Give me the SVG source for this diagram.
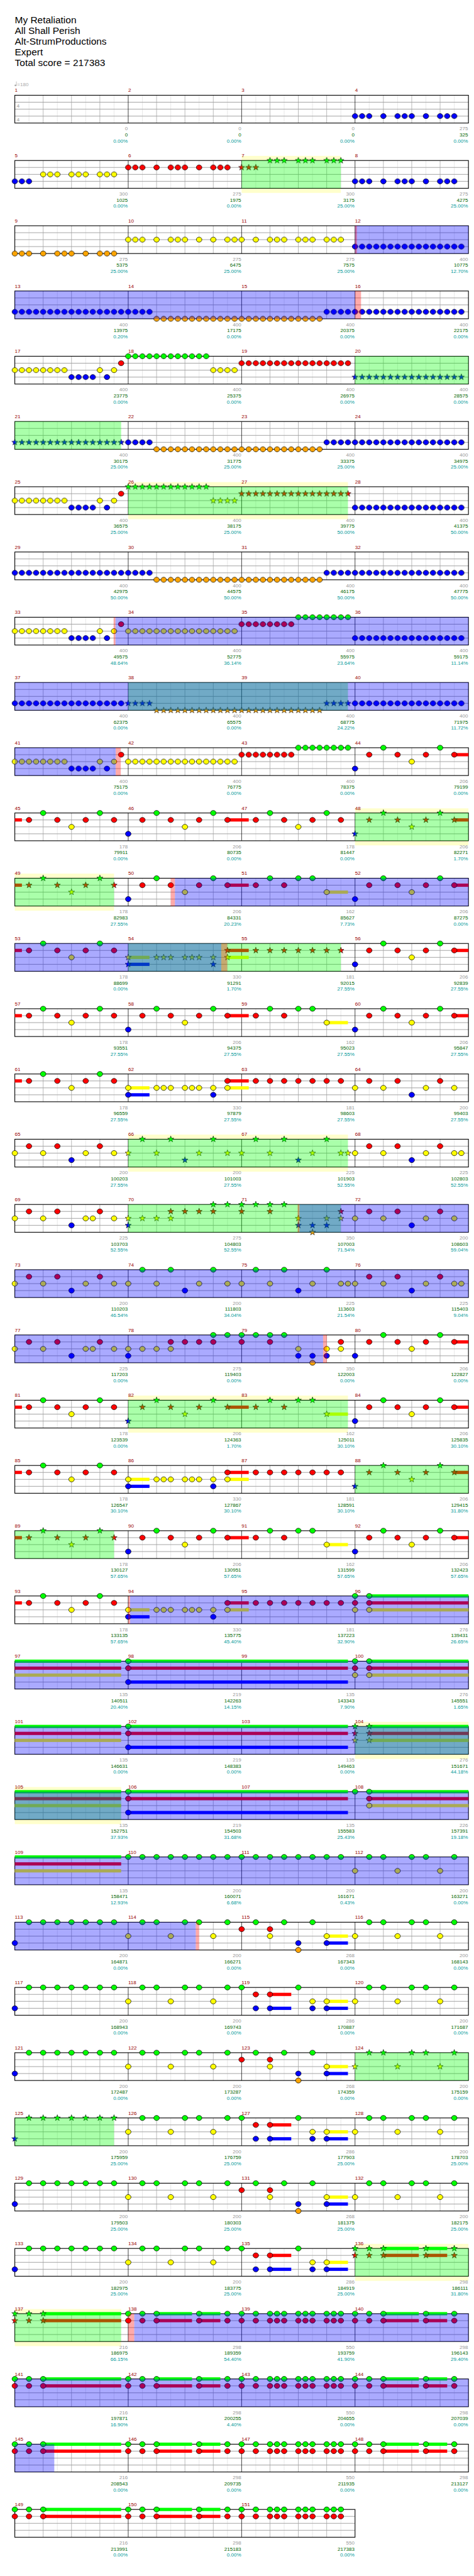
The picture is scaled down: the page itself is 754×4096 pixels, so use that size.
<svg xmlns="http://www.w3.org/2000/svg" width="754" height="4096" viewBox="0 0 754 4096">
<style>
text{font-family:"Liberation Sans",Arial,sans-serif;font-size:11px}
.t{font-size:21px;fill:#000}
.mn{fill:#900}
.s1{fill:#999;text-anchor:end}
.s2{fill:#060;text-anchor:end}
.s3{fill:#099;text-anchor:end}
.og{fill:#0f0;fill-opacity:.333}
.ob{fill:#00f;fill-opacity:.333}
.op{fill:#f00;fill-opacity:.333}
.yb{fill:#ffc}
.sg{fill:#0f0}.sr{fill:#f00}.sy{fill:#ff0}.sb{fill:#00f}
</style>
<defs>
<ellipse id="g" rx="6" ry="5.5" fill="#0f0" stroke="#000"/>
<ellipse id="r" cy="15" rx="6" ry="5.5" fill="#f00" stroke="#000"/>
<ellipse id="y" cy="30" rx="6" ry="5.5" fill="#ff0" stroke="#000"/>
<ellipse id="b" cy="45" rx="6" ry="5.5" fill="#00f" stroke="#000"/>
<ellipse id="o" cy="60" rx="6" ry="5.5" fill="#ffa500" stroke="#000"/>
<path id="st" d="M0-7L1.65-2.27L6.66-2.16L2.66.87L4.11 5.66L0 2.8L-4.11 5.66L-2.66.87L-6.66-2.16L-1.65-2.27Z" stroke="#000" stroke-width=".8"/>
<use id="G" href="#st" fill="#0f0"/>
<use id="R" href="#st" y="15" fill="#f00"/>
<use id="Y" href="#st" y="30" fill="#ff0"/>
<use id="B" href="#st" y="45" fill="#00f"/>
<use id="O" href="#st" y="60" fill="#ffa500"/>
<pattern id="pg" patternUnits="userSpaceOnUse" x="24.34375" y="-7.5" width="15.3125" height="15"><ellipse cx="7.65625" cy="7.5" rx="6" ry="5.5" fill="#0f0" stroke="#000"/></pattern>
<pattern id="pr" patternUnits="userSpaceOnUse" x="24.34375" y="-7.5" width="15.3125" height="15"><ellipse cx="7.65625" cy="7.5" rx="6" ry="5.5" fill="#f00" stroke="#000"/></pattern>
<pattern id="py" patternUnits="userSpaceOnUse" x="24.34375" y="-7.5" width="15.3125" height="15"><ellipse cx="7.65625" cy="7.5" rx="6" ry="5.5" fill="#ff0" stroke="#000"/></pattern>
<pattern id="pb" patternUnits="userSpaceOnUse" x="24.34375" y="-7.5" width="15.3125" height="15"><ellipse cx="7.65625" cy="7.5" rx="6" ry="5.5" fill="#00f" stroke="#000"/></pattern>
<pattern id="po" patternUnits="userSpaceOnUse" x="24.34375" y="-7.5" width="15.3125" height="15"><ellipse cx="7.65625" cy="7.5" rx="6" ry="5.5" fill="#ffa500" stroke="#000"/></pattern>
<pattern id="qg" patternUnits="userSpaceOnUse" x="24.34375" y="-7.5" width="15.3125" height="15"><use href="#st" x="7.65625" y="7.5" fill="#0f0"/></pattern>
<pattern id="qr" patternUnits="userSpaceOnUse" x="24.34375" y="-7.5" width="15.3125" height="15"><use href="#st" x="7.65625" y="7.5" fill="#f00"/></pattern>
<pattern id="qy" patternUnits="userSpaceOnUse" x="24.34375" y="-7.5" width="15.3125" height="15"><use href="#st" x="7.65625" y="7.5" fill="#ff0"/></pattern>
<pattern id="qb" patternUnits="userSpaceOnUse" x="24.34375" y="-7.5" width="15.3125" height="15"><use href="#st" x="7.65625" y="7.5" fill="#00f"/></pattern>
<pattern id="qo" patternUnits="userSpaceOnUse" x="24.34375" y="-7.5" width="15.3125" height="15"><use href="#st" x="7.65625" y="7.5" fill="#ffa500"/></pattern>
<g id="staff">
<rect x="32" y="0" width="980" height="60" fill="#fff"/>
<path d="M62.63 0V60M123.88 0V60M185.13 0V60M246.38 0V60M307.63 0V60M368.88 0V60M430.13 0V60M491.38 0V60M552.63 0V60M613.88 0V60M675.13 0V60M736.38 0V60M797.63 0V60M858.88 0V60M920.13 0V60M981.38 0V60" stroke="#e0e0e0" fill="none"/>
<path d="M93.25 0V60M154.5 0V60M215.75 0V60M338.25 0V60M399.5 0V60M460.75 0V60M583.25 0V60M644.5 0V60M705.75 0V60M828.25 0V60M889.5 0V60M950.75 0V60" stroke="#a0a0a0" fill="none"/>
<path d="M32 15H1012M32 30H1012M32 45H1012" stroke="#a0a0a0" stroke-width="1.3" fill="none"/>
<path d="M277 0V60M522 0V60M767 0V60" stroke="#000" fill="none"/>
<rect x="32" y="0" width="980" height="60" fill="none" stroke="#000" stroke-width="1.5"/>
</g>
<g id="staff3">
<rect x="32" y="0" width="735" height="60" fill="#fff"/>
<path d="M62.63 0V60M123.88 0V60M185.13 0V60M246.38 0V60M307.63 0V60M368.88 0V60M430.13 0V60M491.38 0V60M552.63 0V60M613.88 0V60M675.13 0V60M736.38 0V60" stroke="#e0e0e0" fill="none"/>
<path d="M93.25 0V60M154.5 0V60M215.75 0V60M338.25 0V60M399.5 0V60M460.75 0V60M583.25 0V60M644.5 0V60M705.75 0V60" stroke="#a0a0a0" fill="none"/>
<path d="M32 15H767M32 30H767M32 45H767" stroke="#a0a0a0" stroke-width="1.3" fill="none"/>
<path d="M277 0V60M522 0V60" stroke="#000" fill="none"/>
<rect x="32" y="0" width="735" height="60" fill="none" stroke="#000" stroke-width="1.5"/>
</g>
<rect id="c" class="sr" x="32" y="11.5" width="15.31" height="7"/>
<rect id="c2" class="sr" x="491.38" y="11.5" width="45.93" height="7"/>
<rect id="c3" class="sr" x="981.38" y="11.5" width="30.62" height="7"/>
<g id="gr"><use href="#g"/><use href="#r"/></g>
<g id="GR"><use href="#G"/><use href="#R"/></g>
<g id="gry"><use href="#g"/><use href="#r"/><use href="#y"/></g>
<g id="GRY"><use href="#G"/><use href="#R"/><use href="#Y"/></g>
<g id="K1"><rect x="24.34" y="37.5" width="45.94" height="15" fill="url(#pb)"/><use href="#b" x="93.25"/><rect x="116.22" y="37.5" width="45.94" height="15" fill="url(#pb)"/><use href="#b" x="185.13"/><rect x="208.09" y="37.5" width="45.94" height="15" fill="url(#pb)"/></g>
<g id="BO"><rect x="24.34" y="37.5" width="306.25" height="15" fill="url(#pb)"/><rect x="330.59" y="52.5" width="367.5" height="15" fill="url(#po)"/><rect x="698.09" y="37.5" width="306.25" height="15" fill="url(#pb)"/></g>
<g id="X17"><rect x="24.34" y="22.5" width="122.5" height="15" fill="url(#py)"/><rect x="146.84" y="37.5" width="61.25" height="15" fill="url(#pb)"/><use href="#y" x="215.75"/><use href="#b" x="231.06"/><use href="#y" x="246.38"/><use href="#r" x="261.69"/></g>
<g id="A"><use href="#r" x="62.63"/><use href="#g" x="93.25"/><use href="#r" x="123.88"/><use href="#y" x="154.5"/><use href="#r" x="185.13"/><use href="#g" x="215.75"/><use href="#r" x="246.38"/></g>
<g id="As"><use href="#R" x="62.63"/><use href="#G" x="93.25"/><use href="#R" x="123.88"/><use href="#Y" x="154.5"/><use href="#R" x="185.13"/><use href="#G" x="215.75"/><use href="#R" x="246.38"/></g>
<g id="N8"><use href="#b" x="32"/><use href="#A"/></g>
<g id="N8s"><use href="#B" x="32"/><use href="#As"/></g>
<g id="E"><rect class="sy" x="215.75" y="26.5" width="45.94" height="7"/><use href="#r" x="62.63"/><use href="#g" x="93.25"/><use href="#r" x="123.88"/><use href="#g" x="154.5"/><use href="#g" x="185.13"/><use href="#y" x="215.75"/></g>
<g id="Es"><rect class="sy" x="215.75" y="26.5" width="45.94" height="7"/><use href="#R" x="62.63"/><use href="#G" x="93.25"/><use href="#R" x="123.88"/><use href="#G" x="154.5"/><use href="#G" x="185.13"/><use href="#Y" x="215.75"/></g>
<g id="Fsus"><rect class="sy" x="32" y="26.5" width="45.94" height="7"/><rect class="sb" x="32" y="41.5" width="45.94" height="7"/><rect class="sr" x="246.38" y="11.5" width="45.94" height="7"/><rect class="sy" x="246.38" y="26.5" width="45.94" height="7"/></g>
<g id="F"><use href="#Fsus"/><use href="#y" x="32"/><use href="#b" x="32"/><use href="#y" x="93.25"/><use href="#y" x="108.56"/><use href="#y" x="123.88"/><use href="#y" x="154.5"/><use href="#y" x="169.81"/><use href="#y" x="185.13"/><use href="#y" x="215.75"/><use href="#b" x="215.75"/><use href="#r" x="246.38"/><use href="#y" x="246.38"/></g>
<g id="Fs"><use href="#Fsus"/><use href="#Y" x="32"/><use href="#B" x="32"/><use href="#Y" x="93.25"/><use href="#Y" x="108.56"/><use href="#Y" x="123.88"/><use href="#Y" x="154.5"/><use href="#Y" x="169.81"/><use href="#Y" x="185.13"/><use href="#Y" x="215.75"/><use href="#B" x="215.75"/><use href="#R" x="246.38"/><use href="#Y" x="246.38"/></g>
<g id="H"><use href="#r" x="62.63"/><use href="#r" x="93.25"/><use href="#r" x="123.88"/><use href="#r" x="154.5"/><use href="#r" x="185.13"/><use href="#r" x="215.75"/><use href="#r" x="246.38"/></g>
<g id="Hs"><use href="#R" x="62.63"/><use href="#R" x="93.25"/><use href="#R" x="123.88"/><use href="#R" x="154.5"/><use href="#R" x="185.13"/><use href="#R" x="215.75"/><use href="#R" x="246.38"/></g>
<g id="I"><use href="#y" x="32"/><use href="#r" x="62.63"/><use href="#y" x="93.25"/><use href="#r" x="123.88"/><use href="#b" x="154.5"/><use href="#y" x="185.13"/><use href="#r" x="215.75"/><use href="#y" x="246.38"/></g>
<g id="J"><use href="#y" x="32"/><use href="#g" x="62.63"/><use href="#y" x="93.25"/><use href="#g" x="123.88"/><use href="#b" x="154.5"/><use href="#y" x="185.13"/><use href="#g" x="215.75"/><use href="#y" x="246.38"/></g>
<g id="Js"><use href="#Y" x="32"/><use href="#G" x="62.63"/><use href="#Y" x="93.25"/><use href="#G" x="123.88"/><use href="#B" x="154.5"/><use href="#Y" x="185.13"/><use href="#G" x="215.75"/><use href="#Y" x="246.38"/></g>
<g id="L"><use href="#y" x="32"/><use href="#b" x="32"/><use href="#y" x="62.63"/><use href="#y" x="93.25"/><use href="#y" x="123.88"/><use href="#r" x="123.88"/><use href="#r" x="154.5"/><use href="#r" x="185.13"/><use href="#r" x="215.75"/><use href="#g" x="215.75"/><use href="#g" x="246.38"/></g>
<g id="Ls"><use href="#Y" x="32"/><use href="#B" x="32"/><use href="#Y" x="62.63"/><use href="#Y" x="93.25"/><use href="#Y" x="123.88"/><use href="#R" x="123.88"/><use href="#R" x="154.5"/><use href="#R" x="185.13"/><use href="#R" x="215.75"/><use href="#G" x="215.75"/><use href="#G" x="246.38"/></g>
<g id="M"><use href="#g" x="32"/><use href="#r" x="32"/><use href="#g" x="62.63"/><use href="#g" x="93.25"/><use href="#r" x="93.25"/><use href="#g" x="123.88"/><use href="#y" x="154.5"/><use href="#b" x="154.5"/><use href="#b" x="185.13"/><use href="#o" x="185.13"/><use href="#y" x="215.75"/><use href="#b" x="215.75"/><use href="#r" x="246.38"/><use href="#y" x="246.38"/></g>
<g id="Ms"><use href="#G" x="32"/><use href="#R" x="32"/><use href="#G" x="62.63"/><use href="#G" x="93.25"/><use href="#R" x="93.25"/><use href="#G" x="123.88"/><use href="#Y" x="154.5"/><use href="#B" x="154.5"/><use href="#B" x="185.13"/><use href="#O" x="185.13"/><use href="#Y" x="215.75"/><use href="#B" x="215.75"/><use href="#R" x="246.38"/><use href="#Y" x="246.38"/></g>
<g id="P"><use href="#b" x="32"/><use href="#g" x="62.63"/><use href="#g" x="93.25"/><use href="#g" x="123.88"/><use href="#g" x="154.5"/><use href="#g" x="185.13"/><use href="#g" x="215.75"/><use href="#g" x="246.38"/></g>
<g id="Ps"><use href="#B" x="32"/><use href="#G" x="62.63"/><use href="#G" x="93.25"/><use href="#G" x="123.88"/><use href="#G" x="154.5"/><use href="#G" x="185.13"/><use href="#G" x="215.75"/><use href="#G" x="246.38"/></g>
<g id="Q"><use href="#y" x="32"/><use href="#g" x="62.63"/><use href="#g" x="93.25"/><use href="#y" x="123.88"/><use href="#g" x="154.5"/><use href="#g" x="185.13"/><use href="#y" x="215.75"/><use href="#g" x="246.38"/></g>
<g id="Qs"><use href="#Y" x="32"/><use href="#G" x="62.63"/><use href="#G" x="93.25"/><use href="#Y" x="123.88"/><use href="#G" x="154.5"/><use href="#G" x="185.13"/><use href="#Y" x="215.75"/><use href="#G" x="246.38"/></g>
<g id="S1"><rect class="sy" x="215.75" y="26.5" width="45.94" height="7"/><rect class="sb" x="215.75" y="41.5" width="45.94" height="7"/><use href="#r" x="32"/><use href="#g" x="62.63"/><use href="#r" x="93.25"/><use href="#y" x="93.25"/><use href="#g" x="123.88"/><use href="#b" x="154.5"/><use href="#o" x="154.5"/><use href="#g" x="185.13"/><use href="#y" x="215.75"/><use href="#b" x="215.75"/></g>
<g id="S2"><rect class="sr" x="93.25" y="11.5" width="45.94" height="7"/><rect class="sb" x="93.25" y="41.5" width="45.94" height="7"/><rect class="sy" x="215.75" y="26.5" width="45.94" height="7"/><rect class="sb" x="215.75" y="41.5" width="45.94" height="7"/><use href="#g" x="32"/><use href="#r" x="62.63"/><use href="#b" x="62.63"/><use href="#r" x="93.25"/><use href="#b" x="93.25"/><use href="#g" x="154.5"/><use href="#y" x="185.13"/><use href="#b" x="185.13"/><use href="#y" x="215.75"/><use href="#b" x="215.75"/></g>
<g id="Tsus"><rect class="sg" x="93.25" y="-3.5" width="76.56" height="7"/><rect class="sr" x="93.25" y="11.5" width="76.56" height="7"/><rect class="sg" x="185.13" y="-3.5" width="45.94" height="7"/><rect class="sr" x="185.13" y="11.5" width="45.94" height="7"/></g>
<g id="T"><use href="#Tsus"/><use href="#gr" x="32"/><use href="#gr" x="62.63"/><use href="#gr" x="93.25"/><use href="#gr" x="185.13"/><use href="#gr" x="246.38"/></g>
<g id="Ts"><use href="#Tsus"/><use href="#GR" x="32"/><use href="#GR" x="62.63"/><use href="#GR" x="93.25"/><use href="#GR" x="185.13"/><use href="#GR" x="246.38"/></g>
<g id="U"><use href="#gr" x="32"/><use href="#gr" x="62.63"/><use href="#gr" x="93.25"/><use href="#gr" x="108.56"/><use href="#gr" x="123.88"/><use href="#gr" x="154.5"/><use href="#gr" x="169.81"/><use href="#gr" x="185.13"/><use href="#gr" x="215.75"/><use href="#gr" x="231.06"/><use href="#gr" x="246.38"/></g>
<g id="Vsus"><rect class="sg" x="93.25" y="-3.5" width="168.44" height="7"/><rect class="sr" x="93.25" y="11.5" width="168.44" height="7"/></g>
<g id="V"><use href="#Vsus"/><use href="#gr" x="32"/><use href="#gr" x="62.63"/><use href="#gr" x="93.25"/></g>
<g id="Vs"><use href="#Vsus"/><use href="#GR" x="32"/><use href="#GR" x="62.63"/><use href="#GR" x="93.25"/></g>
<g id="w3"><rect class="sg" x="62.63" y="-3.5" width="214.37" height="7"/><rect class="sr" x="62.63" y="11.5" width="214.37" height="7"/><rect class="sy" x="62.63" y="26.5" width="214.37" height="7"/></g>
<g id="W"><use href="#w3"/><use href="#gry" x="32"/><use href="#gry" x="62.63"/></g>
<g id="Ws"><use href="#w3"/><use href="#GRY" x="32"/><use href="#GRY" x="62.63"/></g>
<g id="W2"><use href="#w3"/><use href="#g" x="32"/><use href="#gry" x="62.63"/></g>
<g id="Y0"><rect class="sg" x="32" y="-3.5" width="229.69" height="7"/><rect class="sr" x="32" y="11.5" width="229.69" height="7"/><rect class="sy" x="32" y="26.5" width="229.69" height="7"/></g>
<g id="Z"><rect class="sg" x="277" y="-3.5" width="474.69" height="7"/><rect class="sr" x="277" y="11.5" width="474.69" height="7"/><rect class="sb" x="277" y="41.5" width="474.69" height="7"/><use href="#g" x="277"/><use href="#r" x="277"/><use href="#b" x="277"/></g>
</defs>
<rect width="754" height="4096" fill="#fff"/>
<g transform="scale(0.73633)">
<g id="title">
<text class="t" x="32" y="50">My Retaliation</text>
<text class="t" x="32" y="73">All Shall Perish</text>
<text class="t" x="32" y="96">Alt-StrumProductions</text>
<text class="t" x="32" y="119">Expert</text>
<text class="t" x="32" y="142">Total score = 217383</text>
</g>
<g id="tempo"><ellipse cx="33.5" cy="184.5" rx="2.2" ry="1.7" fill="#aaa"/><path d="M35.4 184.5V176" stroke="#aaa"/><text x="37" y="186" fill="#aaa">=180</text></g>

<g id="row1" transform="translate(0,205.7)">
<use href="#staff"/>
<text x="36" y="26" font-size="31" font-weight="bold" fill="#b4b4b4">4</text>
<text x="36" y="56" font-size="31" font-weight="bold" fill="#b4b4b4">4</text>
<use href="#K1" x="735"/>
<text class="mn" y="-7"><tspan x="32">1</tspan><tspan x="277">2</tspan><tspan x="522">3</tspan><tspan x="767">4</tspan></text>
<text class="s1" y="76"><tspan x="276">0</tspan><tspan x="521">0</tspan><tspan x="766">0</tspan><tspan x="1011">275</tspan></text>
<text class="s2" y="89"><tspan x="276">0</tspan><tspan x="521">0</tspan><tspan x="766">0</tspan><tspan x="1011">325</tspan></text>
<text class="s3" y="102"><tspan x="276">0.00%</tspan><tspan x="521">0.00%</tspan><tspan x="766">0.00%</tspan><tspan x="1011">0.00%</tspan></text>
</g>

<g id="row2" transform="translate(0,346.6)">
<rect class="yb" x="522" y="-10" width="214.38" height="80"/>
<use href="#staff"/>
<rect x="24.34" y="37.5" width="45.94" height="15" fill="url(#pb)"/>
<rect x="85.59" y="22.5" width="45.94" height="15" fill="url(#py)"/><rect x="146.84" y="22.5" width="45.94" height="15" fill="url(#py)"/><rect x="208.09" y="22.5" width="45.94" height="15" fill="url(#py)"/>
<rect x="269.34" y="7.5" width="45.94" height="15" fill="url(#pr)"/><use href="#r" x="338.25"/><rect x="361.22" y="7.5" width="45.94" height="15" fill="url(#pr)"/><use href="#r" x="430.13"/><rect x="453.09" y="7.5" width="45.94" height="15" fill="url(#pr)"/>
<rect x="514.34" y="7.5" width="45.94" height="15" fill="url(#qr)"/>
<rect x="575.59" y="-7.5" width="45.94" height="15" fill="url(#qg)"/><rect x="636.84" y="-7.5" width="45.94" height="15" fill="url(#qg)"/><rect x="698.09" y="-7.5" width="45.94" height="15" fill="url(#qg)"/>
<use href="#K1" x="735"/>
<rect class="og" x="522" width="214.38" height="60"/>
<text class="mn" y="-7"><tspan x="32">5</tspan><tspan x="277">6</tspan><tspan x="522">7</tspan><tspan x="767">8</tspan></text>
<text class="s1" y="76"><tspan x="276">300</tspan><tspan x="521">275</tspan><tspan x="766">300</tspan><tspan x="1011">275</tspan></text>
<text class="s2" y="89"><tspan x="276">1025</tspan><tspan x="521">1975</tspan><tspan x="766">3175</tspan><tspan x="1011">4275</tspan></text>
<text class="s3" y="102"><tspan x="276">0.00%</tspan><tspan x="521">0.00%</tspan><tspan x="766">25.00%</tspan><tspan x="1011">25.00%</tspan></text>
</g>

<g id="row3" transform="translate(0,487.5)">
<use href="#staff"/>
<rect x="24.34" y="52.5" width="45.94" height="15" fill="url(#po)"/><use href="#o" x="93.25"/><rect x="116.22" y="52.5" width="45.94" height="15" fill="url(#po)"/><use href="#o" x="185.13"/><rect x="208.09" y="52.5" width="45.94" height="15" fill="url(#po)"/>
<rect x="269.34" y="22.5" width="45.94" height="15" fill="url(#py)"/><use href="#y" x="338.25"/><rect x="361.22" y="22.5" width="45.94" height="15" fill="url(#py)"/><use href="#y" x="430.13"/><use href="#y" x="460.75"/><rect x="483.72" y="22.5" width="45.94" height="15" fill="url(#py)"/><use href="#y" x="552.63"/><rect x="575.59" y="22.5" width="45.94" height="15" fill="url(#py)"/><rect x="636.84" y="22.5" width="45.94" height="15" fill="url(#py)"/><rect x="698.09" y="22.5" width="45.94" height="15" fill="url(#py)"/>
<rect x="759.34" y="37.5" width="245" height="15" fill="url(#pb)"/>
<rect class="ob" x="767" width="245" height="60"/><rect class="op" x="767" width="4" height="60"/>
<text class="mn" y="-7"><tspan x="32">9</tspan><tspan x="277">10</tspan><tspan x="522">11</tspan><tspan x="767">12</tspan></text>
<text class="s1" y="76"><tspan x="276">275</tspan><tspan x="521">275</tspan><tspan x="766">275</tspan><tspan x="1011">400</tspan></text>
<text class="s2" y="89"><tspan x="276">5375</tspan><tspan x="521">6475</tspan><tspan x="766">7575</tspan><tspan x="1011">10775</tspan></text>
<text class="s3" y="102"><tspan x="276">25.00%</tspan><tspan x="521">25.00%</tspan><tspan x="766">25.00%</tspan><tspan x="1011">12.70%</tspan></text>
</g>

<g id="row4" transform="translate(0,628.4)">
<use href="#staff"/>
<use href="#BO"/>
<rect class="ob" x="32" width="735" height="60"/><rect class="op" x="767" width="13" height="60"/>
<text class="mn" y="-7"><tspan x="32">13</tspan><tspan x="277">14</tspan><tspan x="522">15</tspan><tspan x="767">16</tspan></text>
<text class="s1" y="76"><tspan x="276">400</tspan><tspan x="521">400</tspan><tspan x="766">400</tspan><tspan x="1011">400</tspan></text>
<text class="s2" y="89"><tspan x="276">13975</tspan><tspan x="521">17175</tspan><tspan x="766">20375</tspan><tspan x="1011">22175</tspan></text>
<text class="s3" y="102"><tspan x="276">0.20%</tspan><tspan x="521">0.00%</tspan><tspan x="766">0.00%</tspan><tspan x="1011">0.00%</tspan></text>
</g>

<g id="row5" transform="translate(0,769.3)">
<use href="#staff"/>
<use href="#X17"/>
<rect x="269.34" y="-7.5" width="183.75" height="15" fill="url(#pg)"/><rect x="453.09" y="22.5" width="61.25" height="15" fill="url(#py)"/><rect x="514.34" y="7.5" width="245" height="15" fill="url(#pr)"/><rect x="759.34" y="37.5" width="245" height="15" fill="url(#qb)"/>
<rect class="og" x="767" width="245" height="60"/>
<text class="mn" y="-7"><tspan x="32">17</tspan><tspan x="277">18</tspan><tspan x="522">19</tspan><tspan x="767">20</tspan></text>
<text class="s1" y="76"><tspan x="276">400</tspan><tspan x="521">400</tspan><tspan x="766">400</tspan><tspan x="1011">400</tspan></text>
<text class="s2" y="89"><tspan x="276">23775</tspan><tspan x="521">25375</tspan><tspan x="766">26975</tspan><tspan x="1011">28575</tspan></text>
<text class="s3" y="102"><tspan x="276">0.00%</tspan><tspan x="521">0.00%</tspan><tspan x="766">0.00%</tspan><tspan x="1011">0.00%</tspan></text>
</g>

<g id="row6" transform="translate(0,910.2)">
<use href="#staff"/>
<rect x="24.34" y="37.5" width="245" height="15" fill="url(#qb)"/><rect x="269.34" y="37.5" width="61.25" height="15" fill="url(#pb)"/><rect x="330.59" y="52.5" width="367.5" height="15" fill="url(#po)"/><rect x="698.09" y="37.5" width="306.25" height="15" fill="url(#pb)"/>
<rect class="og" x="32" width="229.69" height="60"/>
<text class="mn" y="-7"><tspan x="32">21</tspan><tspan x="277">22</tspan><tspan x="522">23</tspan><tspan x="767">24</tspan></text>
<text class="s1" y="76"><tspan x="276">400</tspan><tspan x="521">400</tspan><tspan x="766">400</tspan><tspan x="1011">400</tspan></text>
<text class="s2" y="89"><tspan x="276">30175</tspan><tspan x="521">31775</tspan><tspan x="766">33375</tspan><tspan x="1011">34975</tspan></text>
<text class="s3" y="102"><tspan x="276">25.00%</tspan><tspan x="521">25.00%</tspan><tspan x="766">25.00%</tspan><tspan x="1011">25.00%</tspan></text>
</g>

<g id="row7" transform="translate(0,1051.1)">
<rect class="yb" x="277" y="-10" width="474.69" height="80"/>
<use href="#staff"/>
<use href="#X17"/>
<rect x="269.34" y="-7.5" width="183.75" height="15" fill="url(#qg)"/><rect x="453.09" y="22.5" width="61.25" height="15" fill="url(#qy)"/><rect x="514.34" y="7.5" width="245" height="15" fill="url(#qr)"/><rect x="759.34" y="37.5" width="245" height="15" fill="url(#pb)"/>
<rect class="og" x="277" width="474.69" height="60"/>
<text class="mn" y="-7"><tspan x="32">25</tspan><tspan x="277">26</tspan><tspan x="522">27</tspan><tspan x="767">28</tspan></text>
<text class="s1" y="76"><tspan x="276">400</tspan><tspan x="521">400</tspan><tspan x="766">400</tspan><tspan x="1011">400</tspan></text>
<text class="s2" y="89"><tspan x="276">36575</tspan><tspan x="521">38175</tspan><tspan x="766">39775</tspan><tspan x="1011">41375</tspan></text>
<text class="s3" y="102"><tspan x="276">25.00%</tspan><tspan x="521">25.00%</tspan><tspan x="766">50.00%</tspan><tspan x="1011">50.00%</tspan></text>
</g>

<g id="row8" transform="translate(0,1192)">
<use href="#staff"/>
<use href="#BO"/>
<text class="mn" y="-7"><tspan x="32">29</tspan><tspan x="277">30</tspan><tspan x="522">31</tspan><tspan x="767">32</tspan></text>
<text class="s1" y="76"><tspan x="276">400</tspan><tspan x="521">400</tspan><tspan x="766">400</tspan><tspan x="1011">400</tspan></text>
<text class="s2" y="89"><tspan x="276">42975</tspan><tspan x="521">44575</tspan><tspan x="766">46175</tspan><tspan x="1011">47775</tspan></text>
<text class="s3" y="102"><tspan x="276">50.00%</tspan><tspan x="521">50.00%</tspan><tspan x="766">50.00%</tspan><tspan x="1011">50.00%</tspan></text>
</g>

<g id="row9" transform="translate(0,1332.9)">
<use href="#staff"/>
<use href="#X17"/>
<rect x="269.34" y="22.5" width="245" height="15" fill="url(#py)"/><rect x="514.34" y="7.5" width="122.5" height="15" fill="url(#pr)"/><rect x="636.84" y="-7.5" width="122.5" height="15" fill="url(#pg)"/><rect x="759.34" y="37.5" width="245" height="15" fill="url(#pb)"/>
<rect class="op" x="245.5" width="4" height="60"/><rect class="ob" x="249.5" width="762.5" height="60"/>
<text class="mn" y="-7"><tspan x="32">33</tspan><tspan x="277">34</tspan><tspan x="522">35</tspan><tspan x="767">36</tspan></text>
<text class="s1" y="76"><tspan x="276">400</tspan><tspan x="521">400</tspan><tspan x="766">400</tspan><tspan x="1011">400</tspan></text>
<text class="s2" y="89"><tspan x="276">49575</tspan><tspan x="521">52775</tspan><tspan x="766">55975</tspan><tspan x="1011">59175</tspan></text>
<text class="s3" y="102"><tspan x="276">48.64%</tspan><tspan x="521">36.14%</tspan><tspan x="766">23.64%</tspan><tspan x="1011">11.14%</tspan></text>
</g>

<g id="row10" transform="translate(0,1473.8)">
<use href="#staff"/>
<rect x="24.34" y="37.5" width="245" height="15" fill="url(#pb)"/><rect x="269.34" y="37.5" width="61.25" height="15" fill="url(#qb)"/><rect x="330.59" y="52.5" width="367.5" height="15" fill="url(#qo)"/><rect x="698.09" y="37.5" width="61.25" height="15" fill="url(#qb)"/><rect x="759.34" y="37.5" width="245" height="15" fill="url(#pb)"/>
<rect class="og" x="277" width="474.69" height="60"/><rect class="ob" x="32" width="980" height="60"/>
<text class="mn" y="-7"><tspan x="32">37</tspan><tspan x="277">38</tspan><tspan x="522">39</tspan><tspan x="767">40</tspan></text>
<text class="s1" y="76"><tspan x="276">400</tspan><tspan x="521">400</tspan><tspan x="766">400</tspan><tspan x="1011">400</tspan></text>
<text class="s2" y="89"><tspan x="276">62375</tspan><tspan x="521">65575</tspan><tspan x="766">68775</tspan><tspan x="1011">71975</tspan></text>
<text class="s3" y="102"><tspan x="276">0.00%</tspan><tspan x="521">0.00%</tspan><tspan x="766">24.22%</tspan><tspan x="1011">11.72%</tspan></text>
</g>

<g id="row11" transform="translate(0,1614.7)">
<use href="#staff"/>
<use href="#X17"/>
<rect x="269.34" y="22.5" width="245" height="15" fill="url(#py)"/><rect x="514.34" y="7.5" width="122.5" height="15" fill="url(#pr)"/><rect x="636.84" y="-7.5" width="122.5" height="15" fill="url(#pg)"/>
<use href="#c3"/><use href="#N8" x="735"/>
<rect class="ob" x="32" width="218" height="60"/><rect class="op" x="250" width="11" height="60"/>
<text class="mn" y="-7"><tspan x="32">41</tspan><tspan x="277">42</tspan><tspan x="522">43</tspan><tspan x="767">44</tspan></text>
<text class="s1" y="76"><tspan x="276">400</tspan><tspan x="521">400</tspan><tspan x="766">400</tspan><tspan x="1011">206</tspan></text>
<text class="s2" y="89"><tspan x="276">75175</tspan><tspan x="521">76775</tspan><tspan x="766">78375</tspan><tspan x="1011">79199</tspan></text>
<text class="s3" y="102"><tspan x="276">0.00%</tspan><tspan x="521">0.00%</tspan><tspan x="766">0.00%</tspan><tspan x="1011">0.00%</tspan></text>
</g>

<g id="row12" transform="translate(0,1755.6)">
<rect class="yb" x="767" y="-10" width="245" height="80"/>
<use href="#staff"/>
<use href="#c"/><use href="#A"/><use href="#c2"/><use href="#N8" x="245"/><use href="#A" x="490"/><use href="#c3"/><use href="#N8s" x="735"/>
<rect class="og" x="767" width="245" height="60"/>
<text class="mn" y="-7"><tspan x="32">45</tspan><tspan x="277">46</tspan><tspan x="522">47</tspan><tspan x="767">48</tspan></text>
<text class="s1" y="76"><tspan x="276">178</tspan><tspan x="521">206</tspan><tspan x="766">178</tspan><tspan x="1011">206</tspan></text>
<text class="s2" y="89"><tspan x="276">79911</tspan><tspan x="521">80735</tspan><tspan x="766">81447</tspan><tspan x="1011">82271</tspan></text>
<text class="s3" y="102"><tspan x="276">0.00%</tspan><tspan x="521">0.00%</tspan><tspan x="766">0.00%</tspan><tspan x="1011">1.70%</tspan></text>
</g>

<g id="row13" transform="translate(0,1896.5)">
<rect class="yb" x="32" y="-10" width="214.38" height="80"/>
<use href="#staff"/>
<use href="#c"/><use href="#As"/><use href="#c2"/><use href="#N8" x="245"/><use href="#E" x="490"/><use href="#c3"/><use href="#N8" x="735"/>
<rect class="og" x="32" width="214.38" height="60"/><rect class="op" x="368.88" width="9" height="60"/><rect class="ob" x="377.88" width="634.12" height="60"/>
<text class="mn" y="-7"><tspan x="32">49</tspan><tspan x="277">50</tspan><tspan x="522">51</tspan><tspan x="767">52</tspan></text>
<text class="s1" y="76"><tspan x="276">178</tspan><tspan x="521">206</tspan><tspan x="766">162</tspan><tspan x="1011">206</tspan></text>
<text class="s2" y="89"><tspan x="276">82983</tspan><tspan x="521">84331</tspan><tspan x="766">85627</tspan><tspan x="1011">87275</tspan></text>
<text class="s3" y="102"><tspan x="276">27.55%</tspan><tspan x="521">20.23%</tspan><tspan x="766">7.73%</tspan><tspan x="1011">0.00%</tspan></text>
</g>

<g id="row14" transform="translate(0,2037.4)">
<use href="#staff"/>
<use href="#c"/><use href="#A"/><use href="#Fs" x="245"/><use href="#Hs" x="490"/><use href="#c3"/><use href="#N8" x="735"/>
<rect class="og" x="277" width="459.38" height="60"/><rect class="ob" x="32" width="446" height="60"/><rect class="op" x="478" width="13" height="60"/>
<text class="mn" y="-7"><tspan x="32">53</tspan><tspan x="277">54</tspan><tspan x="522">55</tspan><tspan x="767">56</tspan></text>
<text class="s1" y="76"><tspan x="276">178</tspan><tspan x="521">330</tspan><tspan x="766">181</tspan><tspan x="1011">206</tspan></text>
<text class="s2" y="89"><tspan x="276">88699</tspan><tspan x="521">91291</tspan><tspan x="766">92015</tspan><tspan x="1011">92839</tspan></text>
<text class="s3" y="102"><tspan x="276">0.00%</tspan><tspan x="521">1.70%</tspan><tspan x="766">27.55%</tspan><tspan x="1011">27.55%</tspan></text>
</g>

<g id="row15" transform="translate(0,2178.3)">
<use href="#staff"/>
<use href="#c"/><use href="#A"/><use href="#c2"/><use href="#N8" x="245"/><use href="#E" x="490"/><use href="#c3"/><use href="#N8" x="735"/>
<text class="mn" y="-7"><tspan x="32">57</tspan><tspan x="277">58</tspan><tspan x="522">59</tspan><tspan x="767">60</tspan></text>
<text class="s1" y="76"><tspan x="276">178</tspan><tspan x="521">206</tspan><tspan x="766">162</tspan><tspan x="1011">206</tspan></text>
<text class="s2" y="89"><tspan x="276">93551</tspan><tspan x="521">94375</tspan><tspan x="766">95023</tspan><tspan x="1011">95847</tspan></text>
<text class="s3" y="102"><tspan x="276">27.55%</tspan><tspan x="521">27.55%</tspan><tspan x="766">27.55%</tspan><tspan x="1011">27.55%</tspan></text>
</g>

<g id="row16" transform="translate(0,2319.2)">
<use href="#staff"/>
<use href="#c"/><use href="#A"/><use href="#F" x="245"/><use href="#H" x="490"/><use href="#I" x="735"/>
<text class="mn" y="-7"><tspan x="32">61</tspan><tspan x="277">62</tspan><tspan x="522">63</tspan><tspan x="767">64</tspan></text>
<text class="s1" y="76"><tspan x="276">178</tspan><tspan x="521">330</tspan><tspan x="766">181</tspan><tspan x="1011">200</tspan></text>
<text class="s2" y="89"><tspan x="276">96559</tspan><tspan x="521">97879</tspan><tspan x="766">98603</tspan><tspan x="1011">99403</tspan></text>
<text class="s3" y="102"><tspan x="276">27.55%</tspan><tspan x="521">27.55%</tspan><tspan x="766">27.55%</tspan><tspan x="1011">27.55%</tspan></text>
</g>

<g id="row17" transform="translate(0,2460.1)">
<rect class="yb" x="277" y="-10" width="474.69" height="80"/>
<use href="#staff"/>
<use href="#I"/><use href="#Js" x="245"/><use href="#Js" x="490"/><use href="#Y" x="751.69"/><use href="#I" x="735"/><use href="#y" x="996.69"/>
<rect class="og" x="277" width="474.69" height="60"/>
<text class="mn" y="-7"><tspan x="32">65</tspan><tspan x="277">66</tspan><tspan x="522">67</tspan><tspan x="767">68</tspan></text>
<text class="s1" y="76"><tspan x="276">200</tspan><tspan x="521">200</tspan><tspan x="766">225</tspan><tspan x="1011">225</tspan></text>
<text class="s2" y="89"><tspan x="276">100203</tspan><tspan x="521">101003</tspan><tspan x="766">101903</tspan><tspan x="1011">102803</tspan></text>
<text class="s3" y="102"><tspan x="276">27.55%</tspan><tspan x="521">27.55%</tspan><tspan x="766">52.55%</tspan><tspan x="1011">52.55%</tspan></text>
</g>

<g id="row18" transform="translate(0,2601)">
<use href="#staff"/>
<use href="#I"/><use href="#y" x="200.44"/><use href="#Ls" x="245"/><use href="#Ms" x="490"/><use href="#I" x="735"/>
<rect class="og" x="277" width="459.38" height="60"/><rect class="op" x="643" width="4" height="60"/><rect class="ob" x="647" width="365" height="60"/>
<text class="mn" y="-7"><tspan x="32">69</tspan><tspan x="277">70</tspan><tspan x="522">71</tspan><tspan x="767">72</tspan></text>
<text class="s1" y="76"><tspan x="276">225</tspan><tspan x="521">275</tspan><tspan x="766">350</tspan><tspan x="1011">200</tspan></text>
<text class="s2" y="89"><tspan x="276">103703</tspan><tspan x="521">104803</tspan><tspan x="766">107003</tspan><tspan x="1011">108603</tspan></text>
<text class="s3" y="102"><tspan x="276">52.55%</tspan><tspan x="521">52.55%</tspan><tspan x="766">71.54%</tspan><tspan x="1011">59.04%</tspan></text>
</g>

<g id="row19" transform="translate(0,2741.9)">
<use href="#staff"/>
<use href="#I"/><use href="#J" x="245"/><use href="#J" x="490"/><use href="#y" x="751.69"/><use href="#I" x="735"/><use href="#y" x="996.69"/>
<rect class="ob" x="32" width="980" height="60"/>
<text class="mn" y="-7"><tspan x="32">73</tspan><tspan x="277">74</tspan><tspan x="522">75</tspan><tspan x="767">76</tspan></text>
<text class="s1" y="76"><tspan x="276">200</tspan><tspan x="521">200</tspan><tspan x="766">225</tspan><tspan x="1011">225</tspan></text>
<text class="s2" y="89"><tspan x="276">110203</tspan><tspan x="521">111803</tspan><tspan x="766">113603</tspan><tspan x="1011">115403</tspan></text>
<text class="s3" y="102"><tspan x="276">46.54%</tspan><tspan x="521">34.04%</tspan><tspan x="766">21.54%</tspan><tspan x="1011">9.04%</tspan></text>
</g>

<g id="row20" transform="translate(0,2882.8)">
<use href="#staff"/>
<use href="#I"/><use href="#y" x="200.44"/><use href="#L" x="245"/><use href="#M" x="490"/><use href="#c3"/><use href="#N8" x="735"/>
<rect class="ob" x="32" width="666" height="60"/><rect class="op" x="698" width="8" height="60"/>
<text class="mn" y="-7"><tspan x="32">77</tspan><tspan x="277">78</tspan><tspan x="522">79</tspan><tspan x="767">80</tspan></text>
<text class="s1" y="76"><tspan x="276">225</tspan><tspan x="521">275</tspan><tspan x="766">350</tspan><tspan x="1011">206</tspan></text>
<text class="s2" y="89"><tspan x="276">117203</tspan><tspan x="521">119403</tspan><tspan x="766">122003</tspan><tspan x="1011">122827</tspan></text>
<text class="s3" y="102"><tspan x="276">0.00%</tspan><tspan x="521">0.00%</tspan><tspan x="766">0.00%</tspan><tspan x="1011">0.00%</tspan></text>
</g>

<g id="row21" transform="translate(0,3023.7)">
<rect class="yb" x="277" y="-10" width="474.69" height="80"/>
<use href="#staff"/>
<use href="#c"/><use href="#A"/><use href="#c2"/><use href="#N8s" x="245"/><use href="#Es" x="490"/><use href="#c3"/><use href="#N8" x="735"/>
<rect class="og" x="277" width="474.69" height="60"/>
<text class="mn" y="-7"><tspan x="32">81</tspan><tspan x="277">82</tspan><tspan x="522">83</tspan><tspan x="767">84</tspan></text>
<text class="s1" y="76"><tspan x="276">178</tspan><tspan x="521">206</tspan><tspan x="766">162</tspan><tspan x="1011">206</tspan></text>
<text class="s2" y="89"><tspan x="276">123539</tspan><tspan x="521">124363</tspan><tspan x="766">125011</tspan><tspan x="1011">125835</tspan></text>
<text class="s3" y="102"><tspan x="276">0.00%</tspan><tspan x="521">1.70%</tspan><tspan x="766">30.10%</tspan><tspan x="1011">30.10%</tspan></text>
</g>

<g id="row22" transform="translate(0,3164.6)">
<use href="#staff"/>
<use href="#c"/><use href="#A"/><use href="#F" x="245"/><use href="#H" x="490"/><use href="#c3"/><use href="#N8s" x="735"/>
<rect class="og" x="767" width="245" height="60"/>
<text class="mn" y="-7"><tspan x="32">85</tspan><tspan x="277">86</tspan><tspan x="522">87</tspan><tspan x="767">88</tspan></text>
<text class="s1" y="76"><tspan x="276">178</tspan><tspan x="521">330</tspan><tspan x="766">181</tspan><tspan x="1011">206</tspan></text>
<text class="s2" y="89"><tspan x="276">126547</tspan><tspan x="521">127867</tspan><tspan x="766">128591</tspan><tspan x="1011">129415</tspan></text>
<text class="s3" y="102"><tspan x="276">30.10%</tspan><tspan x="521">30.10%</tspan><tspan x="766">30.10%</tspan><tspan x="1011">31.80%</tspan></text>
</g>

<g id="row23" transform="translate(0,3305.5)">
<use href="#staff"/>
<use href="#c"/><use href="#As"/><use href="#c2"/><use href="#N8" x="245"/><use href="#E" x="490"/><use href="#c3"/><use href="#N8" x="735"/>
<rect class="og" x="32" width="214.38" height="60"/>
<text class="mn" y="-7"><tspan x="32">89</tspan><tspan x="277">90</tspan><tspan x="522">91</tspan><tspan x="767">92</tspan></text>
<text class="s1" y="76"><tspan x="276">178</tspan><tspan x="521">206</tspan><tspan x="766">162</tspan><tspan x="1011">206</tspan></text>
<text class="s2" y="89"><tspan x="276">130127</tspan><tspan x="521">130951</tspan><tspan x="766">131599</tspan><tspan x="1011">132423</tspan></text>
<text class="s3" y="102"><tspan x="276">57.65%</tspan><tspan x="521">57.65%</tspan><tspan x="766">57.65%</tspan><tspan x="1011">57.65%</tspan></text>
</g>

<g id="row24" transform="translate(0,3446.4)">
<use href="#staff"/>
<use href="#c"/><use href="#A"/><use href="#F" x="245"/><use href="#H" x="490"/><use href="#W" x="735"/>
<rect class="op" x="277" width="4" height="60"/><rect class="ob" x="281" width="731" height="60"/>
<text class="mn" y="-7"><tspan x="32">93</tspan><tspan x="277">94</tspan><tspan x="522">95</tspan><tspan x="767">96</tspan></text>
<text class="s1" y="76"><tspan x="276">178</tspan><tspan x="521">330</tspan><tspan x="766">181</tspan><tspan x="1011">276</tspan></text>
<text class="s2" y="89"><tspan x="276">133135</tspan><tspan x="521">135775</tspan><tspan x="766">137223</tspan><tspan x="1011">139431</tspan></text>
<text class="s3" y="102"><tspan x="276">57.65%</tspan><tspan x="521">45.40%</tspan><tspan x="766">32.90%</tspan><tspan x="1011">26.65%</tspan></text>
</g>

<g id="row25" transform="translate(0,3587.3)">
<use href="#staff"/>
<use href="#Y0"/><use href="#Z"/><use href="#W" x="735"/>
<rect class="ob" x="32" width="980" height="60"/>
<text class="mn" y="-7"><tspan x="32">97</tspan><tspan x="277">98</tspan><tspan x="522">99</tspan><tspan x="767">100</tspan></text>
<text class="s1" y="76"><tspan x="276">135</tspan><tspan x="521">219</tspan><tspan x="766">135</tspan><tspan x="1011">276</tspan></text>
<text class="s2" y="89"><tspan x="276">140511</tspan><tspan x="521">142263</tspan><tspan x="766">143343</tspan><tspan x="1011">145551</tspan></text>
<text class="s3" y="102"><tspan x="276">20.40%</tspan><tspan x="521">14.15%</tspan><tspan x="766">7.90%</tspan><tspan x="1011">1.65%</tspan></text>
</g>

<g id="row26" transform="translate(0,3728.2)">
<rect class="yb" x="767" y="-10" width="245" height="80"/>
<use href="#staff"/>
<use href="#Y0"/><use href="#Z"/><use href="#Ws" x="735"/>
<rect class="og" x="767" width="245" height="60"/><rect class="ob" x="32" width="980" height="60"/>
<text class="mn" y="-7"><tspan x="32">101</tspan><tspan x="277">102</tspan><tspan x="522">103</tspan><tspan x="767">104</tspan></text>
<text class="s1" y="76"><tspan x="276">135</tspan><tspan x="521">219</tspan><tspan x="766">135</tspan><tspan x="1011">276</tspan></text>
<text class="s2" y="89"><tspan x="276">146631</tspan><tspan x="521">148383</tspan><tspan x="766">149463</tspan><tspan x="1011">151671</tspan></text>
<text class="s3" y="102"><tspan x="276">0.00%</tspan><tspan x="521">0.00%</tspan><tspan x="766">0.00%</tspan><tspan x="1011">44.18%</tspan></text>
</g>

<g id="row27" transform="translate(0,3869.1)">
<rect class="yb" x="32" y="-10" width="229.69" height="80"/>
<use href="#staff"/>
<use href="#Y0"/><use href="#Z"/><use href="#W2" x="735"/>
<rect class="og" x="32" width="229.69" height="60"/><rect class="ob" x="32" width="980" height="60"/>
<text class="mn" y="-7"><tspan x="32">105</tspan><tspan x="277">106</tspan><tspan x="522">107</tspan><tspan x="767">108</tspan></text>
<text class="s1" y="76"><tspan x="276">135</tspan><tspan x="521">219</tspan><tspan x="766">135</tspan><tspan x="1011">226</tspan></text>
<text class="s2" y="89"><tspan x="276">152751</tspan><tspan x="521">154503</tspan><tspan x="766">155583</tspan><tspan x="1011">157391</tspan></text>
<text class="s3" y="102"><tspan x="276">37.93%</tspan><tspan x="521">31.68%</tspan><tspan x="766">25.43%</tspan><tspan x="1011">19.18%</tspan></text>
</g>

<g id="row28" transform="translate(0,4010)">
<use href="#staff"/>
<use href="#Y0"/>
<use href="#g" x="277"/><use href="#g" x="307.63"/><use href="#g" x="338.25"/><use href="#g" x="368.88"/><use href="#g" x="399.5"/><use href="#g" x="430.13"/><use href="#g" x="460.75"/><use href="#g" x="491.38"/><use href="#g" x="522"/><use href="#g" x="552.63"/><use href="#g" x="583.25"/><use href="#g" x="613.88"/><use href="#g" x="644.5"/><use href="#g" x="675.13"/><use href="#g" x="705.75"/><use href="#g" x="736.38"/>
<use href="#Q" x="735"/>
<rect class="ob" x="32" width="980" height="60"/>
<text class="mn" y="-7"><tspan x="32">109</tspan><tspan x="277">110</tspan><tspan x="522">111</tspan><tspan x="767">112</tspan></text>
<text class="s1" y="76"><tspan x="276">135</tspan><tspan x="521">200</tspan><tspan x="766">200</tspan><tspan x="1011">200</tspan></text>
<text class="s2" y="89"><tspan x="276">158471</tspan><tspan x="521">160071</tspan><tspan x="766">161671</tspan><tspan x="1011">163271</tspan></text>
<text class="s3" y="102"><tspan x="276">12.93%</tspan><tspan x="521">6.68%</tspan><tspan x="766">0.43%</tspan><tspan x="1011">0.00%</tspan></text>
</g>

<g id="row29" transform="translate(0,4150.9)">
<use href="#staff"/>
<use href="#P"/><use href="#Q" x="245"/><use href="#S1" x="490"/><use href="#Q" x="735"/>
<rect class="ob" x="32" width="391" height="60"/><rect class="op" x="423" width="7" height="60"/>
<text class="mn" y="-7"><tspan x="32">113</tspan><tspan x="277">114</tspan><tspan x="522">115</tspan><tspan x="767">116</tspan></text>
<text class="s1" y="76"><tspan x="276">200</tspan><tspan x="521">200</tspan><tspan x="766">268</tspan><tspan x="1011">200</tspan></text>
<text class="s2" y="89"><tspan x="276">164871</tspan><tspan x="521">166271</tspan><tspan x="766">167343</tspan><tspan x="1011">168143</tspan></text>
<text class="s3" y="102"><tspan x="276">0.00%</tspan><tspan x="521">0.00%</tspan><tspan x="766">0.00%</tspan><tspan x="1011">0.00%</tspan></text>
</g>

<g id="row30" transform="translate(0,4291.8)">
<use href="#staff"/>
<use href="#P"/><use href="#Q" x="245"/><use href="#S2" x="490"/><use href="#Q" x="735"/>
<text class="mn" y="-7"><tspan x="32">117</tspan><tspan x="277">118</tspan><tspan x="522">119</tspan><tspan x="767">120</tspan></text>
<text class="s1" y="76"><tspan x="276">200</tspan><tspan x="521">200</tspan><tspan x="766">286</tspan><tspan x="1011">200</tspan></text>
<text class="s2" y="89"><tspan x="276">168943</tspan><tspan x="521">169743</tspan><tspan x="766">170887</tspan><tspan x="1011">171687</tspan></text>
<text class="s3" y="102"><tspan x="276">0.00%</tspan><tspan x="521">0.00%</tspan><tspan x="766">0.00%</tspan><tspan x="1011">0.00%</tspan></text>
</g>

<g id="row31" transform="translate(0,4432.7)">
<use href="#staff"/>
<use href="#P"/><use href="#Q" x="245"/><use href="#S1" x="490"/><use href="#Qs" x="735"/>
<rect class="og" x="767" width="245" height="60"/>
<text class="mn" y="-7"><tspan x="32">121</tspan><tspan x="277">122</tspan><tspan x="522">123</tspan><tspan x="767">124</tspan></text>
<text class="s1" y="76"><tspan x="276">200</tspan><tspan x="521">200</tspan><tspan x="766">268</tspan><tspan x="1011">200</tspan></text>
<text class="s2" y="89"><tspan x="276">172487</tspan><tspan x="521">173287</tspan><tspan x="766">174359</tspan><tspan x="1011">175159</tspan></text>
<text class="s3" y="102"><tspan x="276">0.00%</tspan><tspan x="521">0.00%</tspan><tspan x="766">0.00%</tspan><tspan x="1011">0.00%</tspan></text>
</g>

<g id="row32" transform="translate(0,4573.6)">
<use href="#staff"/>
<use href="#Ps"/><use href="#Q" x="245"/><use href="#S2" x="490"/><use href="#Q" x="735"/>
<rect class="og" x="32" width="214.38" height="60"/>
<text class="mn" y="-7"><tspan x="32">125</tspan><tspan x="277">126</tspan><tspan x="522">127</tspan><tspan x="767">128</tspan></text>
<text class="s1" y="76"><tspan x="276">200</tspan><tspan x="521">200</tspan><tspan x="766">286</tspan><tspan x="1011">200</tspan></text>
<text class="s2" y="89"><tspan x="276">175959</tspan><tspan x="521">176759</tspan><tspan x="766">177903</tspan><tspan x="1011">178703</tspan></text>
<text class="s3" y="102"><tspan x="276">25.00%</tspan><tspan x="521">25.00%</tspan><tspan x="766">25.00%</tspan><tspan x="1011">25.00%</tspan></text>
</g>

<g id="row33" transform="translate(0,4714.5)">
<use href="#staff"/>
<use href="#P"/><use href="#Q" x="245"/><use href="#S1" x="490"/><use href="#Q" x="735"/>
<text class="mn" y="-7"><tspan x="32">129</tspan><tspan x="277">130</tspan><tspan x="522">131</tspan><tspan x="767">132</tspan></text>
<text class="s1" y="76"><tspan x="276">200</tspan><tspan x="521">200</tspan><tspan x="766">268</tspan><tspan x="1011">200</tspan></text>
<text class="s2" y="89"><tspan x="276">179503</tspan><tspan x="521">180303</tspan><tspan x="766">181375</tspan><tspan x="1011">182175</tspan></text>
<text class="s3" y="102"><tspan x="276">25.00%</tspan><tspan x="521">25.00%</tspan><tspan x="766">25.00%</tspan><tspan x="1011">25.00%</tspan></text>
</g>

<g id="row34" transform="translate(0,4855.4)">
<rect class="yb" x="767" y="-10" width="245" height="80"/>
<use href="#staff"/>
<use href="#P"/><use href="#Q" x="245"/><use href="#S2" x="490"/><use href="#Ts" x="735"/>
<rect class="og" x="767" width="245" height="60"/>
<text class="mn" y="-7"><tspan x="32">133</tspan><tspan x="277">134</tspan><tspan x="522">135</tspan><tspan x="767">136</tspan></text>
<text class="s1" y="76"><tspan x="276">200</tspan><tspan x="521">200</tspan><tspan x="766">286</tspan><tspan x="1011">298</tspan></text>
<text class="s2" y="89"><tspan x="276">182975</tspan><tspan x="521">183775</tspan><tspan x="766">184919</tspan><tspan x="1011">186111</tspan></text>
<text class="s3" y="102"><tspan x="276">25.00%</tspan><tspan x="521">25.00%</tspan><tspan x="766">25.00%</tspan><tspan x="1011">31.80%</tspan></text>
</g>

<g id="row35" transform="translate(0,4996.3)">
<rect class="yb" x="32" y="-10" width="229.69" height="80"/>
<use href="#staff"/>
<use href="#Vs"/><use href="#T" x="245"/><use href="#U" x="490"/><use href="#T" x="735"/>
<rect class="og" x="32" width="229.69" height="60"/><rect class="op" x="277" width="13" height="60"/><rect class="ob" x="290" width="722" height="60"/>
<text class="mn" y="-7"><tspan x="32">137</tspan><tspan x="277">138</tspan><tspan x="522">139</tspan><tspan x="767">140</tspan></text>
<text class="s1" y="76"><tspan x="276">216</tspan><tspan x="521">298</tspan><tspan x="766">550</tspan><tspan x="1011">298</tspan></text>
<text class="s2" y="89"><tspan x="276">186975</tspan><tspan x="521">189359</tspan><tspan x="766">193759</tspan><tspan x="1011">196143</tspan></text>
<text class="s3" y="102"><tspan x="276">66.15%</tspan><tspan x="521">54.40%</tspan><tspan x="766">41.90%</tspan><tspan x="1011">29.40%</tspan></text>
</g>

<g id="row36" transform="translate(0,5137.2)">
<use href="#staff"/>
<use href="#V"/><use href="#T" x="245"/><use href="#U" x="490"/><use href="#T" x="735"/>
<rect class="ob" x="32" width="980" height="60"/>
<text class="mn" y="-7"><tspan x="32">141</tspan><tspan x="277">142</tspan><tspan x="522">143</tspan><tspan x="767">144</tspan></text>
<text class="s1" y="76"><tspan x="276">216</tspan><tspan x="521">298</tspan><tspan x="766">550</tspan><tspan x="1011">298</tspan></text>
<text class="s2" y="89"><tspan x="276">197871</tspan><tspan x="521">200255</tspan><tspan x="766">204655</tspan><tspan x="1011">207039</tspan></text>
<text class="s3" y="102"><tspan x="276">16.90%</tspan><tspan x="521">4.40%</tspan><tspan x="766">0.00%</tspan><tspan x="1011">0.00%</tspan></text>
</g>

<g id="row37" transform="translate(0,5278.1)">
<use href="#staff"/>
<use href="#V"/><use href="#T" x="245"/><use href="#U" x="490"/><use href="#T" x="735"/>
<rect class="ob" x="32" width="85.3" height="60"/>
<text class="mn" y="-7"><tspan x="32">145</tspan><tspan x="277">146</tspan><tspan x="522">147</tspan><tspan x="767">148</tspan></text>
<text class="s1" y="76"><tspan x="276">216</tspan><tspan x="521">298</tspan><tspan x="766">550</tspan><tspan x="1011">298</tspan></text>
<text class="s2" y="89"><tspan x="276">208543</tspan><tspan x="521">209735</tspan><tspan x="766">211935</tspan><tspan x="1011">213127</tspan></text>
<text class="s3" y="102"><tspan x="276">0.00%</tspan><tspan x="521">0.00%</tspan><tspan x="766">0.00%</tspan><tspan x="1011">0.00%</tspan></text>
</g>

<g id="row38" transform="translate(0,5419)">
<use href="#staff3"/>
<use href="#V"/><use href="#T" x="245"/><use href="#U" x="490"/>
<text class="mn" y="-7"><tspan x="32">149</tspan><tspan x="277">150</tspan><tspan x="522">151</tspan></text>
<text class="s1" y="76"><tspan x="276">216</tspan><tspan x="521">298</tspan><tspan x="766">550</tspan></text>
<text class="s2" y="89"><tspan x="276">213991</tspan><tspan x="521">215183</tspan><tspan x="766">217383</tspan></text>
<text class="s3" y="102"><tspan x="276">0.00%</tspan><tspan x="521">0.00%</tspan><tspan x="766">0.00%</tspan></text>
</g>
</g>
</svg>
